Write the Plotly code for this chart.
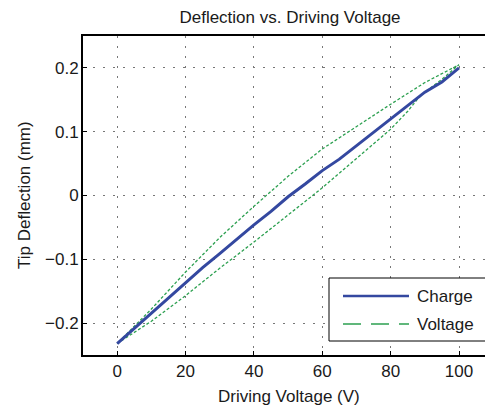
import plotly.graph_objects as go

# ---- data ----
charge_v = [0, 5, 10, 15, 20, 25, 30, 35, 40, 45, 50, 55, 60, 65, 70, 75, 80, 85, 88, 90, 95, 100]
charge_d = [-0.232, -0.208, -0.185, -0.160, -0.137, -0.113, -0.091, -0.068, -0.046, -0.025,
            -0.002, 0.018, 0.039, 0.057, 0.078, 0.098, 0.120, 0.140, 0.154, 0.162, 0.178, 0.200]

volt_up_v = [0, 5, 10, 20, 30, 40, 50, 60, 70, 80, 85, 88, 90, 95, 100]
volt_up_d = [-0.232, -0.215, -0.197, -0.157, -0.114, -0.073, -0.030, 0.012, 0.058, 0.104,
             0.132, 0.152, 0.162, 0.182, 0.205]
volt_down_v = [100, 90, 80, 70, 60, 50, 40, 30, 20, 10, 5, 0]
volt_down_d = [0.205, 0.177, 0.143, 0.108, 0.073, 0.030, -0.017, -0.066, -0.120, -0.178, -0.205, -0.232]

x_ticks = [0, 20, 40, 60, 80, 100]
x_ticktext = ["0", "20", "40", "60", "80", "100"]
y_ticks = [-0.2, -0.1, 0, 0.1, 0.2]
y_ticktext = ["\u22120.2", "\u22120.1", "0", "0.1", "0.2"]

series_names = ["Charge", "Voltage"]
title_text = "Deflection vs. Driving Voltage"
x_title = "Driving Voltage (V)"
y_title = "Tip Deflection (mm)"

# ---- style ----
W, H = 485, 407
L, R, T, B = 83, 0, 36, 52
BLUE = "rgb(52,72,160)"
GREEN = "rgb(44,160,80)"
FONT = "Liberation Sans, Arial, sans-serif"
TXT = "#1a1a1a"
FS = 17

def px_x(px):
    return (px - L) / (W - L - R)

def px_y(py):
    return (H - B - py) / (H - T - B)

fig = go.Figure()
fig.add_trace(go.Scatter(
    x=volt_up_v + volt_down_v, y=volt_up_d + volt_down_d, mode="lines",
    line=dict(color=GREEN, width=1.3, dash="3px,2px"), showlegend=False,
    name=series_names[1]))
fig.add_trace(go.Scatter(
    x=charge_v, y=charge_d, mode="lines",
    line=dict(color=BLUE, width=3), showlegend=False, name=series_names[0]))

axis_common = dict(
    showline=True, linecolor="black", linewidth=2,
    showgrid=True, gridcolor="#777", gridwidth=1, griddash="2px,8px",
    ticks="inside", ticklen=4, tickcolor="black", zeroline=False,
    tickfont=dict(family=FONT, size=FS, color=TXT),
)

fig.update_layout(
    width=W, height=H,
    margin=dict(l=L, r=R, t=T, b=B),
    paper_bgcolor="white", plot_bgcolor="white",
    showlegend=False,
    title=dict(text=title_text, x=290 / W, xref="container", xanchor="center",
               y=1 - 17 / H, yref="container", yanchor="middle",
               font=dict(family=FONT, size=FS, color=TXT)),
    xaxis=dict(range=[-10, 107.6], tickvals=x_ticks, ticktext=x_ticktext,
               mirror=True, ticklabelstandoff=0, **axis_common),
    yaxis=dict(range=[-0.25, 0.25], tickvals=y_ticks, ticktext=y_ticktext,
               mirror=False, ticklabelstandoff=-1, **axis_common),
)

# axis titles
fig.add_annotation(text=x_title, xref="paper", yref="paper", x=px_x(289), y=px_y(396),
                   showarrow=False, xanchor="center", yanchor="middle",
                   font=dict(family=FONT, size=FS, color=TXT))
fig.add_annotation(text=y_title, xref="paper", yref="paper", x=px_x(24), y=px_y(195),
                   showarrow=False, xanchor="center", yanchor="middle", textangle=-90,
                   font=dict(family=FONT, size=FS, color=TXT))

# legend box (MATLAB style)
fig.add_shape(type="rect", xref="paper", yref="paper",
              x0=px_x(329), x1=px_x(490), y0=px_y(341), y1=px_y(278),
              line=dict(color="black", width=1), fillcolor="white", layer="above")
fig.add_shape(type="line", xref="paper", yref="paper",
              x0=px_x(343), x1=px_x(409), y0=px_y(296), y1=px_y(296),
              line=dict(color=BLUE, width=2.5), layer="above")
fig.add_shape(type="line", xref="paper", yref="paper",
              x0=px_x(343), x1=px_x(409), y0=px_y(324), y1=px_y(324),
              line=dict(color=GREEN, width=1.5, dash="18px,10px"), layer="above")
for name, py in zip(series_names, [296, 324]):
    fig.add_annotation(text=name, xref="paper", yref="paper", x=px_x(415), y=px_y(py),
                       showarrow=False, xanchor="left", yanchor="middle",
                       font=dict(family=FONT, size=FS, color=TXT))

fig.write_html("out.html")
